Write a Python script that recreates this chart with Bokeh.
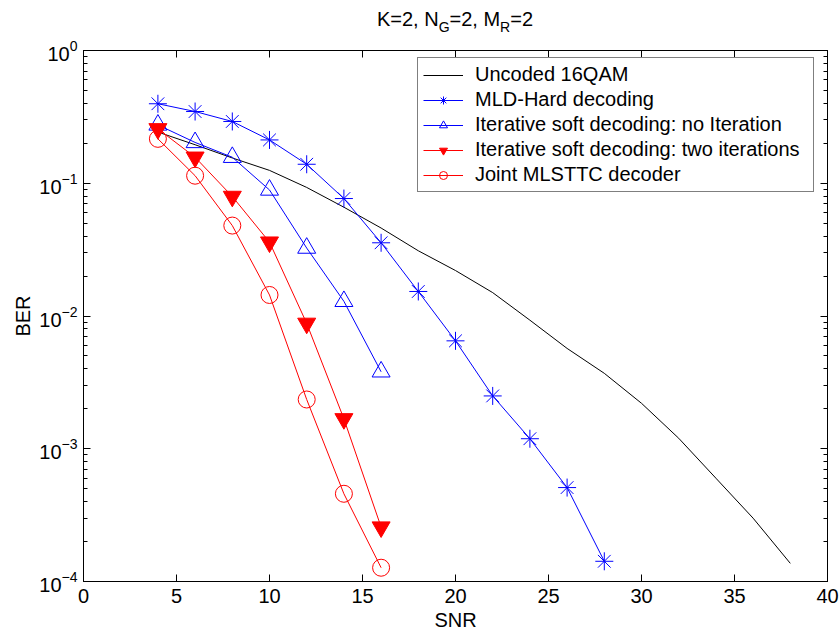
from bokeh.plotting import figure
from bokeh.layouts import column
from bokeh.models import (Range1d, LinearAxis, LogAxis, Legend, LegendItem, FixedTicker,
                          CustomJSTickFormatter, Div)
from bokeh.embed import file_html
from bokeh.resources import INLINE

# ---------------- data ----------------
snr_uncoded = [4, 6, 8, 10, 12, 14, 16, 18, 20, 22, 24, 26, 28, 30, 32, 34, 36, 38]
ber_uncoded = [0.243, 0.195, 0.155, 0.125, 0.093, 0.066, 0.046, 0.031, 0.022, 0.015,
               0.0093, 0.0057, 0.0037, 0.0022, 0.0012, 0.0006, 0.0003, 0.000137]

snr_mld = [4, 6, 8, 10, 12, 14, 16, 18, 20, 22, 24, 26, 28]
ber_mld = [0.397, 0.347, 0.292, 0.212, 0.139, 0.0767, 0.0356, 0.0153, 0.0065,
           0.0025, 0.00119, 0.00051, 0.000142]

snr_soft = [4, 6, 8, 10, 12, 14, 16]
ber_soft_noiter = [0.275, 0.203, 0.157, 0.089, 0.0325, 0.0129, 0.0038]
ber_soft_two = [0.257, 0.157, 0.0795, 0.036, 0.0088, 0.00168, 0.000257]
ber_joint = [0.216, 0.114, 0.048, 0.0144, 0.00235, 0.000458, 0.000127]

labels = ["Uncoded 16QAM", "MLD-Hard decoding", "Iterative soft decoding: no Iteration",
          "Iterative soft decoding: two iterations", "Joint MLSTTC decoder"]

x_ticks = [0, 5, 10, 15, 20, 25, 30, 35, 40]
y_exponents = [0, -1, -2, -3, -4]
y_major = [10.0 ** e for e in y_exponents]
y_minor = [m * 10.0 ** e for e in range(-4, 0) for m in range(2, 10)]

title_html = ('K=2, N<span style="font-size:14px;vertical-align:-6px">G</span>=2, '
              'M<span style="font-size:14px;vertical-align:-6px">R</span>=2')

FONT = "Liberation Sans"
FS = "20px"

# layout in canvas pixels
FL, FR, FT, FB = 83, 827, 50, 581
W, H = 840, 634
TITLE_H = 33
LEG_TOP, LEG_H = 59, 133

title = Div(text=title_html, width=W, height=TITLE_H, margin=0,
            styles={"font-family": FONT, "font-size": "20px", "color": "black",
                    "text-align": "center", "line-height": "23px",
                    "padding-top": "8px", "padding-left": "70px",
                    "box-sizing": "border-box", "background": "white"})

p = figure(width=W, height=H - TITLE_H, output_backend="svg", toolbar_location=None,
           y_axis_type="log", x_range=Range1d(0, 40), y_range=Range1d(1e-4, 1),
           min_border_left=FL, min_border_right=W - FR, min_border_top=FT - TITLE_H,
           min_border_bottom=H - FB, margin=0)
p.xgrid.visible = False
p.ygrid.visible = False
p.outline_line_color = "black"
p.background_fill_color = "white"
p.border_fill_color = "white"

bottom = p.below[0]
left = p.left[0]
blank = CustomJSTickFormatter(code="return ''")

bottom.ticker = FixedTicker(ticks=x_ticks, minor_ticks=[])
left.ticker = FixedTicker(ticks=y_major, minor_ticks=y_minor)
top = LinearAxis(ticker=FixedTicker(ticks=x_ticks, minor_ticks=[]), formatter=blank)
right = LogAxis(ticker=FixedTicker(ticks=y_major, minor_ticks=y_minor), formatter=blank)
p.add_layout(top, "above")
p.add_layout(right, "right")

for ax in [bottom, top]:
    ax.major_tick_in = 7
    ax.major_tick_out = 0
    ax.minor_tick_in = 0
    ax.minor_tick_out = 0
for ax in [left, right]:
    ax.major_tick_in = 7
    ax.major_tick_out = 0
    ax.minor_tick_in = 4
    ax.minor_tick_out = 0
for ax in [bottom, top, left, right]:
    ax.axis_line_color = "black"
    ax.major_tick_line_color = "black"
    ax.minor_tick_line_color = "black"
    ax.major_label_text_font = FONT
    ax.major_label_text_color = "black"
    ax.major_label_text_font_size = FS
    ax.axis_label_text_font = FONT
    ax.axis_label_text_font_size = FS
    ax.axis_label_text_font_style = "normal"
    ax.axis_label_text_color = "black"
for ax in [top, right]:
    ax.major_label_standoff = 0

bottom.axis_label = "SNR"
bottom.major_label_standoff = 7
bottom.axis_label_standoff = 3
left.axis_label = "BER"
left.major_label_standoff = 6
left.axis_label_standoff = 2

# ---------------- series ----------------
r_unc = p.line(snr_uncoded, ber_uncoded, line_color="black", line_width=1)

r_mld_l = p.line(snr_mld, ber_mld, line_color="blue", line_width=1)
r_mld_m = p.scatter(snr_mld, ber_mld, marker="asterisk", size=18, line_color="blue", line_width=1)

r_no_l = p.line(snr_soft, ber_soft_noiter, line_color="blue", line_width=1)
r_no_m = p.scatter(snr_soft, ber_soft_noiter, marker="triangle", size=18, line_color="blue",
                   fill_color=None, line_width=1)

r_two_l = p.line(snr_soft, ber_soft_two, line_color="red", line_width=1)
r_two_m = p.scatter(snr_soft, ber_soft_two, marker="inverted_triangle", size=18, line_color="red",
                    fill_color="red", line_width=1)

r_j_l = p.line(snr_soft, ber_joint, line_color="red", line_width=1)
r_j_m = p.scatter(snr_soft, ber_joint, marker="circle", size=17, line_color="red",
                  fill_color=None, line_width=1)

legend = Legend(items=[
    LegendItem(label=labels[0], renderers=[r_unc]),
    LegendItem(label=labels[1], renderers=[r_mld_l, r_mld_m]),
    LegendItem(label=labels[2], renderers=[r_no_l, r_no_m]),
    LegendItem(label=labels[3], renderers=[r_two_l, r_two_m]),
    LegendItem(label=labels[4], renderers=[r_j_l, r_j_m]),
], location=(417 - FL, FB - LEG_TOP - LEG_H))
legend.label_text_font = FONT
legend.label_text_font_size = FS
legend.label_text_color = "black"
legend.border_line_color = "black"
legend.border_line_width = 1
legend.background_fill_alpha = 1.0
legend.padding = 5
legend.spacing = 2
legend.glyph_width = 40
legend.glyph_height = 20
legend.label_height = 20
legend.label_standoff = 12
legend.label_width = 333
legend.margin = 0
p.add_layout(legend)

layout = column(title, p, spacing=0, margin=0)
open("out.html", "w").write(file_html(layout, INLINE))
